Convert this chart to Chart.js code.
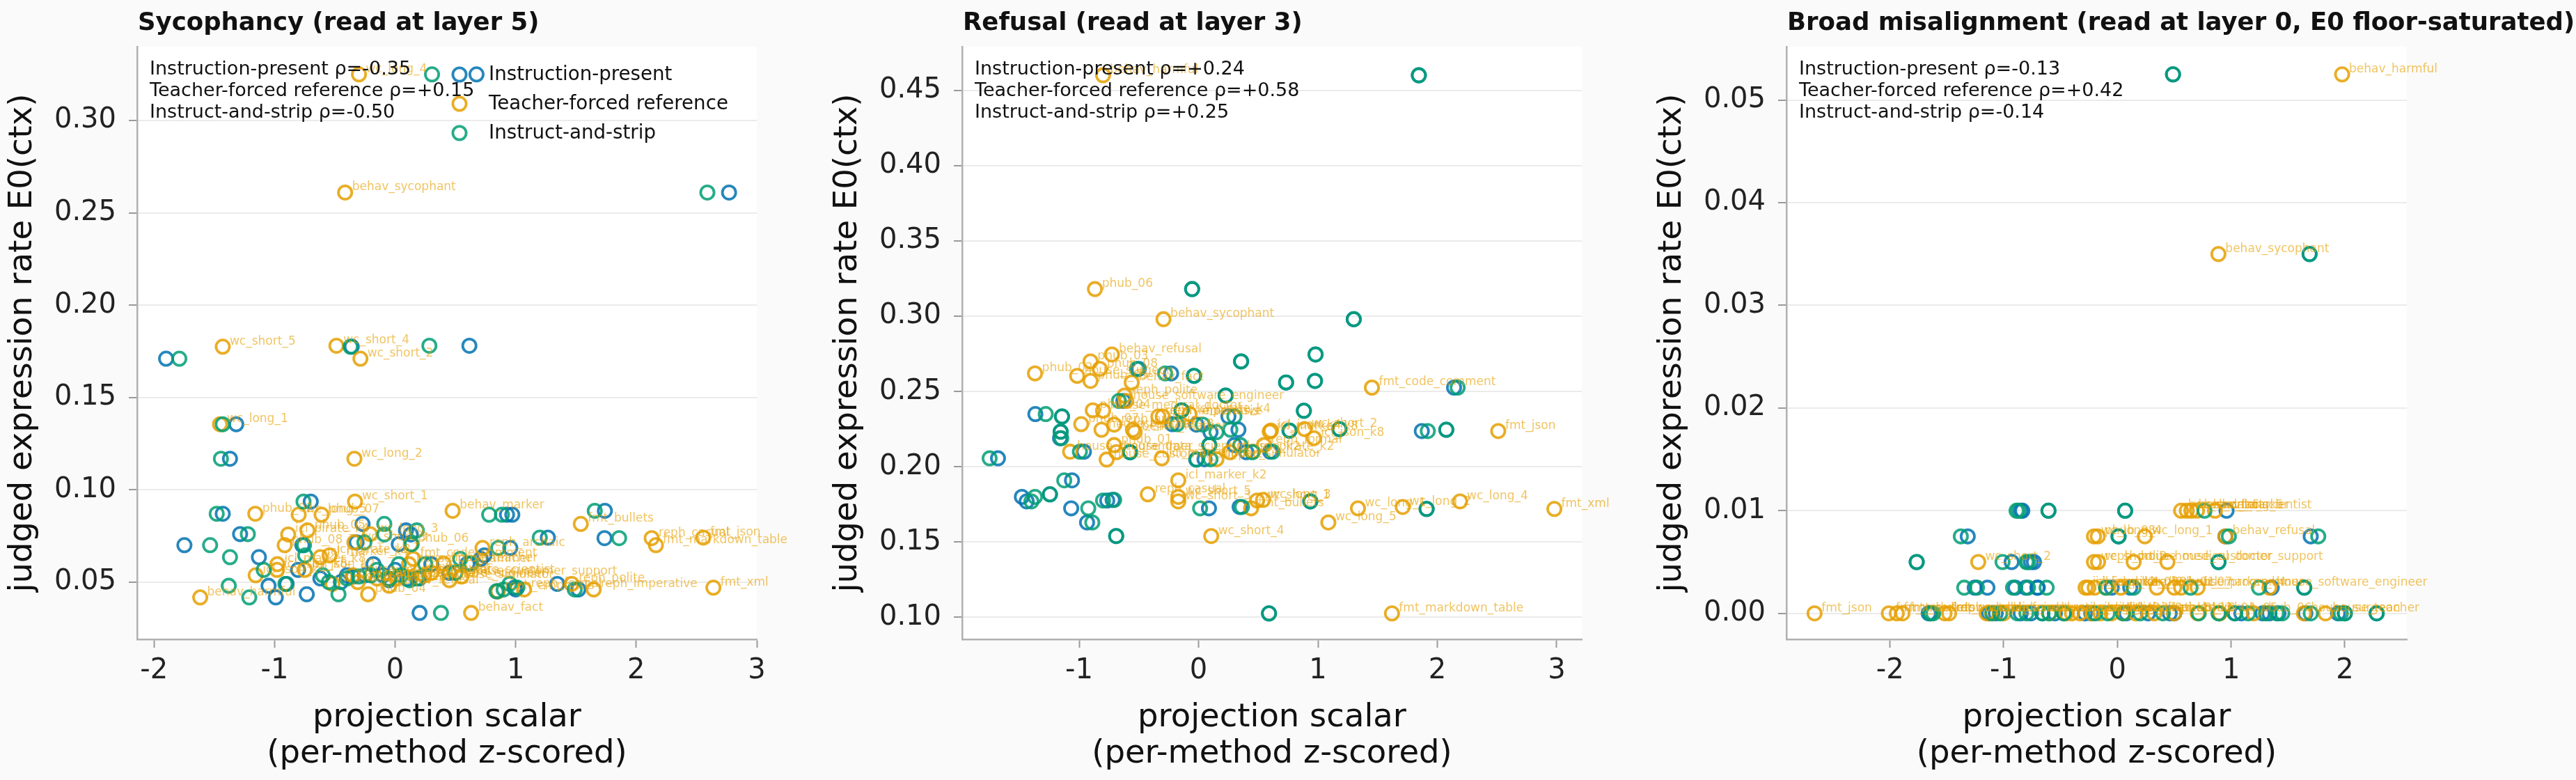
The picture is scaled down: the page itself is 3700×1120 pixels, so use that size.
<!DOCTYPE html>
<html><head><meta charset="utf-8">
<script src="https://cdn.jsdelivr.net/npm/chart.js@4.4.1/dist/chart.umd.min.js"></script>
<style>
html,body{margin:0;padding:0;background:#fafafa;width:3700px;height:1120px;overflow:hidden}
canvas{position:absolute;top:0}
</style></head><body>
<canvas id="c1" width="1160" height="1120" style="left:0px;width:1160px;height:1120px"></canvas>
<canvas id="c2" width="1155" height="1120" style="left:1185px;width:1155px;height:1120px"></canvas>
<canvas id="c3" width="1331" height="1120" style="left:2369px;width:1331px;height:1120px"></canvas>
<script>
// ---------- series / legend names ----------
const methodNames = ['Instruction-present', 'Teacher-forced reference', 'Instruct-and-strip'];

// ---------- Panel 1: Sycophancy ----------
const p1Title = 'Sycophancy (read at layer 5)';
const p1Rho = ['Instruction-present ρ=-0.35', 'Teacher-forced reference ρ=+0.15', 'Instruct-and-strip ρ=-0.50'];
const p1Prompts = ['wc_long_4','behav_sycophant','wc_short_5','wc_short_4','wc_short_2','wc_long_1','wc_long_2','wc_short_1','phub_02','wc_long_5',
  'phub_07','behav_marker','fmt_bullets','phub_05','wc_long_3','icl_pirate_k4','reph_casual','fmt_json','fmt_markdown_table','wc_short_3',
  'phub_08','phub_06','reph_archaic','icl_marker_k4','icl_pirate_k8','fmt_code_comment','icl_marker_k8','house_teacher','icl_json_k8','icl_json_k4',
  'behav_harmful','phub_04','behav_fact','reph_polite','reph_imperative','fmt_xml','reph_emphasis','reph_formal','house_data_scientist','house_software_engineer',
  'house_medical_doctor','house_programmer','house_surgeon','icl_marker_k2','icl_json_k2','icl_pirate_k2','phub_01','phub_03','house_customer_support','house_simulator',
  'behav_refusal'];
const p1E0 = [0.325,0.261,0.1775,0.178,0.171,0.1355,0.1168,0.0936,0.087,0.0865,
  0.0865,0.0886,0.0815,0.078,0.076,0.0758,0.0738,0.0741,0.070,0.0715,
  0.070,0.0705,0.0685,0.0635,0.0645,0.0626,0.0597,0.060,0.0566,0.0537,
  0.0417,0.0434,0.0333,0.049,0.046,0.047,0.045,0.046,0.0537,0.0518,
  0.0537,0.0597,0.050,0.049,0.0566,0.052,0.052,0.055,0.053,0.051,
  0.048];
const p1Ip = [0.675,2.77,-0.36,0.616,-1.90,-1.318,-1.37,-0.70,-1.43,0.928,
  0.972,1.74,-0.27,0.09,-1.286,0.13,1.737,1.267,-0.77,-0.32,
  -1.748,0.03,0.955,-1.13,0.74,0.71,-0.18,0.60,-0.805,-0.40,
  -0.99,-0.733,0.203,1.345,1.52,0.99,0.85,1.00,-0.10,0.10,
  -0.25,0.30,-0.45,-0.90,0.00,-0.62,0.20,0.45,-0.35,-0.05,
  -1.05];
const p1Tf = [-0.30,-0.415,-1.43,-0.487,-0.288,-1.453,-0.338,-0.333,-1.16,-0.80,
  -0.61,0.477,1.54,-0.727,-0.207,-0.887,2.128,2.556,2.163,-0.338,
  -0.916,0.13,0.725,-0.621,-0.544,0.15,-0.977,0.403,-0.98,-1.157,
  -1.617,-0.224,0.63,1.465,1.647,2.64,0.85,1.07,0.24,-0.055,
  -0.35,0.115,-0.31,-0.52,-0.75,0.01,-0.15,0.30,0.55,0.45,
  -0.05];
const p1Is = [0.306,2.59,-0.37,0.284,-1.79,-1.43,-1.445,-0.76,-1.48,0.78,
  0.886,1.656,-0.09,0.18,-1.222,-0.09,1.858,1.20,-0.756,-0.255,
  -1.535,0.137,0.856,-1.37,-0.746,0.54,0.03,0.63,-1.09,-0.60,
  -1.21,-0.47,0.38,0.95,1.49,1.013,0.84,0.90,0.05,-0.05,
  -0.20,0.25,-0.55,-0.91,-0.15,-0.40,0.18,0.50,-0.30,0.12,
  -1.38];
const p1XTicks = [-2, -1, 0, 1, 2, 3];
const p1YTicks = [0.05, 0.10, 0.15, 0.20, 0.25, 0.30];

// ---------- Panel 2: Refusal ----------
const p2Title = 'Refusal (read at layer 3)';
const p2Rho = ['Instruction-present ρ=+0.24', 'Teacher-forced reference ρ=+0.58', 'Instruct-and-strip ρ=+0.25'];
const p2Prompts = ['behav_harmful','phub_06','behav_sycophant','behav_refusal','phub_03','phub_08','phub_02','house_surgeon','phub_05','behav_fact',
  'fmt_code_comment','reph_polite','house_software_engineer','phub_04','house_medical_doctor','icl_pirate_k4','reph_imperative','phub_07','reph_archaic','house_teacher',
  'icl_pirate_k8','behav_marker','icl_marker_k8','wc_short_2','icl_json_k8','icl_json_k4','fmt_json','phub_01','house_programmer','house_data_scientist',
  'house_customer_support','icl_marker_k4','house_simulator','icl_json_k2','icl_pirate_k2','reph_formal','icl_marker_k2','reph_casual','wc_short_5','wc_short_3',
  'fmt_bullets','wc_short_1','wc_long_3','wc_short_4','wc_long_1','wc_long_5','wc_long_2','wc_long_4','fmt_xml','fmt_markdown_table',
  'reph_emphasis'];
const p2E0 = [0.460,0.318,0.298,0.2746,0.270,0.265,0.262,0.2604,0.257,0.256,
  0.2526,0.2473,0.2437,0.2375,0.2372,0.235,0.2334,0.2283,0.228,0.2246,
  0.2246,0.223,0.2233,0.225,0.219,0.224,0.2237,0.2144,0.210,0.2097,
  0.2048,0.2056,0.205,0.2097,0.210,0.2144,0.191,0.1817,0.180,0.177,
  0.1724,0.1776,0.178,0.154,0.1724,0.163,0.1733,0.177,0.172,0.1026,
  0.2334];
const p2Ip = [1.845,-0.054,1.30,0.98,0.357,-0.50,-0.23,-0.04,0.975,0.733,
  2.14,0.227,-0.63,-0.142,0.882,-1.367,-1.144,-0.22,-0.018,0.334,
  2.075,0.10,-1.155,1.18,-1.16,0.762,1.87,0.09,-0.96,-0.574,
  -0.02,-1.68,0.05,0.40,0.60,0.30,-1.06,-1.245,-1.48,-1.44,
  -1.067,-0.765,-0.72,-0.69,0.087,-0.934,0.344,0.936,1.91,0.59,
  0.25];
const p2Tf = [-0.80,-0.868,-0.294,-0.726,-0.905,-0.827,-1.37,-1.017,-0.905,-0.56,
  1.452,-0.62,-0.606,-0.886,-0.80,-0.075,-0.337,-0.983,-0.707,-0.813,
  -0.55,-0.535,0.596,0.888,0.966,0.606,2.51,-0.707,-1.076,-0.687,
  -0.77,-0.308,0.15,0.262,0.456,0.548,-0.17,-0.425,-0.17,-0.17,
  0.44,0.49,0.54,0.106,1.335,1.087,1.71,2.19,2.98,1.62,
  -0.30];
const p2Is = [1.845,-0.054,1.30,0.98,0.355,-0.516,-0.28,-0.036,0.975,0.733,
  2.17,0.227,-0.667,-0.142,0.882,-1.28,-1.144,-0.18,0.035,0.266,
  2.075,0.15,-1.155,1.18,-1.15,0.762,1.92,0.09,-0.994,-0.574,
  -0.016,-1.75,0.10,0.45,0.62,0.35,-1.125,-1.245,-1.37,-1.40,
  -0.924,-0.80,-0.707,-0.69,0.013,-0.89,0.363,0.936,1.91,0.59,
  0.30];
const p2XTicks = [-1, 0, 1, 2, 3];
const p2YTicks = [0.10, 0.15, 0.20, 0.25, 0.30, 0.35, 0.40, 0.45];

// ---------- Panel 3: Broad misalignment ----------
const p3Title = 'Broad misalignment (read at layer 0, E0 floor-saturated)';
const p3Rho = ['Instruction-present ρ=-0.13', 'Teacher-forced reference ρ=+0.42', 'Instruct-and-strip ρ=-0.14'];
const p3Prompts = ['behav_harmful','behav_sycophant','house_data_scientist','wc_short_5','behav_fact','behav_marker','wc_long_5','wc_long_4','phub_08','wc_long_1',
  'behav_refusal','wc_short_2','reph_polite','house_medical_doctor','house_customer_support','wc_short_3','icl_json_k2','icl_json_k4','icl_marker_k2','icl_pirate_k2',
  'phub_02','phub_01','house_software_engineer','phub_07','house_programmer','icl_marker_k4','fmt_json','fmt_xml','fmt_markdown_table','fmt_bullets',
  'fmt_code_comment','reph_archaic','reph_casual','reph_formal','reph_imperative','reph_emphasis','wc_short_1','wc_short_4','wc_long_2','wc_long_3',
  'icl_json_k8','icl_marker_k8','icl_pirate_k4','icl_pirate_k8','phub_03','phub_04','phub_05','phub_06','house_surgeon','house_teacher',
  'house_simulator'];
const p3E0 = [0.0525,0.035,0.010,0.010,0.010,0.010,0.010,0.0075,0.0075,0.0075,
  0.0075,0.005,0.005,0.005,0.005,0.005,0.0025,0.0025,0.0025,0.0025,
  0.0025,0.0025,0.0025,0.0025,0.0025,0.0025,0,0,0,0,
  0,0,0,0,0,0,0,0,0,0,
  0,0,0,0,0,0,0,0,0,0,
  0];
const p3Ip = [0.489,1.69,-0.836,-0.606,0.068,0.96,-0.85,-1.316,0.01,0.95,
  1.70,-1.765,-0.93,-0.734,0.889,-0.76,-1.255,-1.143,-0.898,-0.806,
  -0.704,-0.05,0.113,1.357,1.643,-0.70,-1.645,-1.66,-1.13,-1.07,
  -0.85,-0.76,-0.66,-0.47,-0.285,-0.23,0.079,0.27,0.46,0.50,
  0.897,1.035,1.09,1.276,1.337,1.417,1.653,1.94,2.0,2.28,
  -0.55];
const p3Tf = [1.976,0.888,0.56,0.61,0.65,0.70,0.858,-0.206,-0.173,0.241,
  0.95,-1.224,-0.17,0.143,0.44,-0.206,-0.28,-0.255,-0.20,-0.10,
  0.03,0.347,1.337,0.50,0.56,0.705,-2.663,-2.01,-1.94,-1.89,
  -1.52,-1.48,-1.15,-1.10,-1.00,-0.45,-0.40,-0.33,-0.22,-0.15,
  -0.05,0.05,0.16,0.325,0.50,0.706,0.90,1.20,1.64,1.83,
  -0.60];
const p3Is = [0.489,1.69,-0.887,-0.606,0.068,0.766,-0.87,-1.377,0.01,0.98,
  1.766,-1.765,-1.01,-0.786,0.889,-0.80,-1.347,-1.235,-0.918,-0.786,
  -0.622,-0.10,0.143,1.245,1.643,0.643,-1.62,-1.645,-1.10,-1.03,
  -0.88,-0.80,-0.66,-0.47,-0.195,-0.085,0.05,0.20,0.40,0.715,
  0.889,1.03,1.15,1.307,1.40,1.45,1.70,1.965,2.0,2.28,
  -0.60];
const p3XTicks = [-2, -1, 0, 1, 2];
const p3YTicks = [0.00, 0.01, 0.02, 0.03, 0.04, 0.05];

// ---------- styling ----------
const FONT = '"DejaVu Sans", "Liberation Sans", sans-serif';
const C_IP = 'rgba(0,114,178,0.85)';
const C_TF = 'rgba(230,159,0,0.85)';
const C_IS = 'rgba(0,158,115,0.85)';
const C_LABEL = 'rgba(230,159,0,0.62)';
const PT_R = 9.6, PT_W = 3.8;

function pts(xs, ys) { return xs.map((x, i) => ({x: x, y: ys[i]})); }

const decorPlugin = {
  id: 'decor',
  beforeDraw(chart) {
    const {ctx, chartArea: a} = chart;
    ctx.save();
    ctx.fillStyle = '#ffffff';
    ctx.fillRect(a.left, a.top, a.right - a.left, a.bottom - a.top);
    ctx.restore();
  },
  afterDraw(chart) {
    const o = chart.options.plugins.decor;
    const {ctx, chartArea: a} = chart;
    ctx.save();
    // point labels for teacher-forced series
    const meta = chart.getDatasetMeta(1);
    ctx.font = '17px ' + FONT;
    ctx.fillStyle = C_LABEL;
    ctx.textAlign = 'left';
    ctx.textBaseline = 'alphabetic';
    meta.data.forEach((el, i) => {
      ctx.fillText(o.names[i], el.x + 10, el.y - 3);
    });
    // correlation text
    ctx.font = '27px ' + FONT;
    ctx.fillStyle = '#111111';
    o.rho.forEach((t, i) => ctx.fillText(t, a.left + 18, 107 + i * 31));
    // legend (first panel only)
    if (o.legend) {
      const cols = [C_IP, C_TF, C_IS];
      const lx = a.left + 463;
      ctx.font = '27.7px ' + FONT;
      methodNames.forEach((n, i) => {
        const cy = 107 + i * 42;
        ctx.beginPath();
        ctx.strokeStyle = cols[i];
        ctx.lineWidth = PT_W;
        ctx.arc(lx, cy, PT_R, 0, Math.PI * 2);
        ctx.stroke();
        ctx.fillStyle = '#111111';
        ctx.textBaseline = 'middle';
        ctx.fillText(n, lx + 42, cy + 1);
      });
    }
    // title
    ctx.font = 'bold 35.5px ' + FONT;
    ctx.fillStyle = '#111111';
    ctx.textBaseline = 'alphabetic';
    ctx.fillText(o.title, a.left + 1, 43);
    ctx.restore();
  }
};

function makePanel(id, padRight, title, rho, names, e0, ip, tf, is, xMin, xMax, yMin, yMax, xTicks, yTicks, legend) {
  const ds = (label, data, color, order) => ({
    label, data, order,
    borderColor: color, backgroundColor: 'rgba(0,0,0,0)',
    pointRadius: PT_R, pointHoverRadius: PT_R, pointBorderWidth: PT_W, borderWidth: PT_W,
    pointStyle: 'circle', showLine: false, clip: false
  });
  new Chart(document.getElementById(id), {
    type: 'scatter',
    data: {
      datasets: [
        ds(methodNames[0], pts(ip, e0), C_IP, 2),
        ds(methodNames[1], pts(tf, e0), C_TF, 1),
        ds(methodNames[2], pts(is, e0), C_IS, 0)
      ]
    },
    options: {
      responsive: false, animation: false, devicePixelRatio: 1,
      layout: {padding: {left: 0, top: 67, right: padRight, bottom: 0}},
      plugins: {
        legend: {display: false}, title: {display: false}, tooltip: {enabled: false},
        decor: {title, rho, names, legend}
      },
      scales: {
        x: {
          type: 'linear', min: xMin, max: xMax,
          afterBuildTicks: s => { s.ticks = xTicks.map(v => ({value: v})); },
          afterFit: s => { s.height = 202; },
          grid: {drawOnChartArea: false, drawTicks: true, tickLength: 12, tickColor: '#9a9a9a', tickWidth: 2},
          border: {display: true, color: '#b0b0b0', width: 2.5},
          ticks: {font: {family: FONT, size: 40}, color: '#222222', padding: 10, maxRotation: 0,
                  callback: v => String(v)},
          title: {display: true, text: ['projection scalar', '(per-method z-scored)'],
                  font: {family: FONT, size: 46.5, lineHeight: 1.12}, color: '#111111',
                  padding: {top: 0, bottom: 11}}
        },
        y: {
          type: 'linear', min: yMin, max: yMax,
          afterBuildTicks: s => { s.ticks = yTicks.map(v => ({value: v})); },
          afterFit: s => { s.width = 197; },
          grid: {color: '#ebebeb', lineWidth: 2, drawTicks: true, tickLength: 12, tickColor: '#9a9a9a', tickWidth: 2},
          border: {display: true, color: '#b0b0b0', width: 2.5},
          ticks: {font: {family: FONT, size: 40}, color: '#222222', padding: 18,
                  callback: v => v.toFixed(2)},
          title: {display: true, text: 'judged expression rate E0(ctx)',
                  font: {family: FONT, size: 46.5, lineHeight: 1.12}, color: '#111111',
                  padding: {top: 7, bottom: 0}}
        }
      }
    },
    plugins: [decorPlugin]
  });
}

makePanel('c1', 73, p1Title, p1Rho, p1Prompts, p1E0, p1Ip, p1Tf, p1Is, -2.14, 3.0, 0.019, 0.340, p1XTicks, p1YTicks, true);
makePanel('c2', 68, p2Title, p2Rho, p2Prompts, p2E0, p2Ip, p2Tf, p2Is, -1.98, 3.21, 0.0854, 0.479, p2XTicks, p2YTicks, false);
makePanel('c3', 243, p3Title, p3Rho, p3Prompts, p3E0, p3Ip, p3Tf, p3Is, -2.91, 2.545, -0.00253, 0.0552, p3XTicks, p3YTicks, false);
</script>
</body></html>
